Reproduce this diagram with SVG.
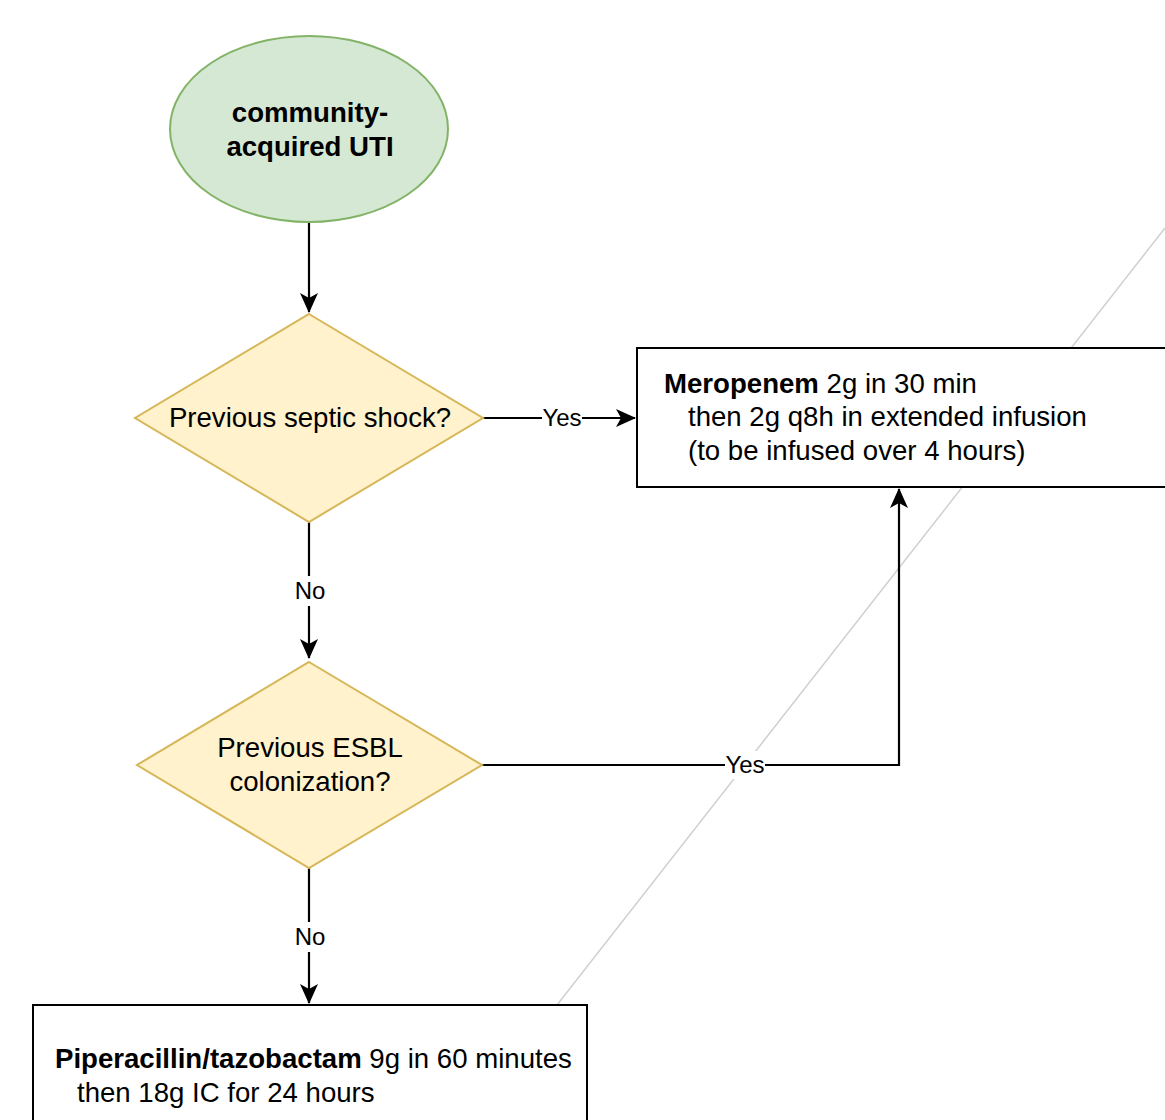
<svg xmlns="http://www.w3.org/2000/svg" width="1165" height="1120" viewBox="0 0 1165 1120">
<style>
text{font-family:"Liberation Sans",Arial,sans-serif;fill:#000}
.t{font-size:27.6px}
.b{font-weight:bold}
.lbl{font-size:24px;text-anchor:middle}
.c{text-anchor:middle}
.edge{fill:none;stroke:#000;stroke-width:2.2}
.dec{fill:#fff2cc;stroke:#d6b656;stroke-width:2}
.box{fill:#fff;stroke:#000;stroke-width:2}
</style>
<defs>
<marker id="arr" viewBox="0 0 20 18" refX="19" refY="9" markerWidth="20" markerHeight="18" markerUnits="userSpaceOnUse" orient="auto">
<path d="M0,0 L20,9 L0,18 L5,9 Z" fill="#000"/>
</marker>
</defs>
<rect width="1165" height="1120" fill="#fff"/>
<line x1="1165" y1="228" x2="557" y2="1005" stroke="#d0d0d0" stroke-width="1.5"/>
<g id="connectors">
<path class="edge" d="M309,222 L309,312" marker-end="url(#arr)"/>
<path class="edge" d="M483,418 L635,418" marker-end="url(#arr)"/>
<path class="edge" d="M309,522 L309,658" marker-end="url(#arr)"/>
<path class="edge" d="M482,765 L899,765 L899,489" marker-end="url(#arr)"/>
<path class="edge" d="M309,868 L309,1003" marker-end="url(#arr)"/>
<rect x="542" y="404" width="40" height="28" fill="#fff"/>
<text class="lbl" x="562" y="426">Yes</text>
<rect x="294" y="576" width="32" height="30" fill="#fff"/>
<text class="lbl" x="310" y="599">No</text>
<rect x="725" y="751" width="40" height="28" fill="#fff"/>
<text class="lbl" x="745" y="773">Yes</text>
<rect x="294" y="922" width="32" height="30" fill="#fff"/>
<text class="lbl" x="310" y="945">No</text>
</g>
<g id="start">
<ellipse cx="309" cy="129" rx="139" ry="93" fill="#d5e8d4" stroke="#82b366" stroke-width="2"/>
<text class="t b c" x="310" y="122">community-</text>
<text class="t b c" x="310" y="156">acquired UTI</text>
</g>
<g id="septic">
<polygon class="dec" points="309,314 483,418 309,522 135,418"/>
<text class="t c" x="310" y="427">Previous septic shock?</text>
</g>
<g id="meropenem">
<rect class="box" x="637" y="348" width="540" height="139"/>
<text class="t" x="664" y="393"><tspan class="b">Meropenem</tspan> 2g in 30 min</text>
<text class="t" x="688" y="426">then 2g q8h in extended infusion</text>
<text class="t" x="688" y="460">(to be infused over 4 hours)</text>
</g>
<g id="esbl">
<polygon class="dec" points="309,662 482,765 309,868 137,765"/>
<text class="t c" x="310" y="757">Previous ESBL</text>
<text class="t c" x="310" y="791">colonization?</text>
</g>
<g id="pip">
<rect class="box" x="33" y="1005" width="554" height="130"/>
<text class="t" x="55" y="1068"><tspan class="b">Piperacillin/tazobactam</tspan> 9g in 60 minutes</text>
<text class="t" x="77" y="1102">then 18g IC for 24 hours</text>
</g>
</svg>
